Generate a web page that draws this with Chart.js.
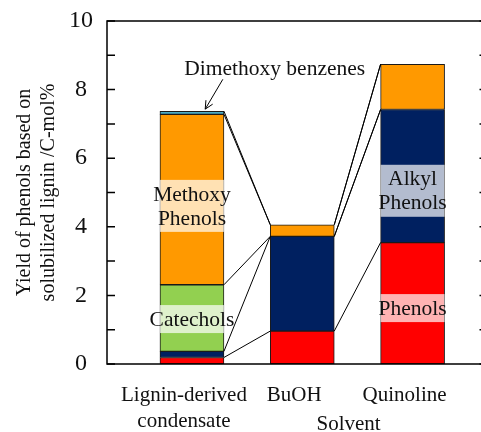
<!DOCTYPE html>
<html>
<head>
<meta charset="utf-8">
<script src="https://cdn.jsdelivr.net/npm/chart.js@4.4.1/dist/chart.umd.min.js"></script>
<style>
  html, body { margin: 0; padding: 0; background: #fff; }
  #wrap { width: 481px; height: 432px; }
</style>
</head>
<body>
<div id="wrap"><canvas id="yieldChart"></canvas></div>
<script>
// solvents (one bar each) and their tick labels
const categories = ['Lignin-derived condensate', 'BuOH', 'Quinoline'];
const categoryLabels = [['Lignin-derived', 'condensate'], ['BuOH'], ['Quinoline']];
const categoryPos = [1, 2, 3];

// yield of phenols, C-mol%, stacked bottom to top
const phenols = [0.19, 0.96, 3.54];
const alkylPhenols = [0.18, 2.76, 3.88];
const catechols = [1.94, 0, 0];
const methoxyPhenols = [4.97, 0.34, 1.32];
const dimethoxyBenzenes = [0.09, 0, 0];

const yTicks = [0, 2, 4, 6, 8, 10];

const seriesNames = ['Phenols', 'Alkyl Phenols', 'Catechols', 'Methoxy Phenols', 'Dimethoxy benzenes'];
const seriesValues = [phenols, alkylPhenols, catechols, methoxyPhenols, dimethoxyBenzenes];
const seriesColors = ['#ff0000', '#002060', '#92d050', '#ff9900', '#4bacc6'];

// names written on top of the bars (bar index + value where the box is centred)
const barLabels = [
    { lines: ['Methoxy', 'Phenols'], bar: 0, at: 4.61 },
    { lines: ['Catechols'], bar: 0, at: 1.31 },
    { lines: ['Alkyl', 'Phenols'], bar: 2, at: 5.05 },
    { lines: ['Phenols'], bar: 2, at: 1.63 }
];

const FONT = '"Liberation Serif", "Times New Roman", serif';
Chart.defaults.font.family = FONT;
Chart.defaults.color = '#000';

const overlay = {
    id: 'overlay',
    afterDatasetsDraw(chart) {
        const { ctx, chartArea: a, scales: { x, y } } = chart;
        ctx.save();

        // lines joining the segment tops of neighbouring bars
        ctx.strokeStyle = '#000';
        ctx.lineWidth = 1;
        chart.data.datasets.forEach((ds, i) => {
            const bars = chart.getDatasetMeta(i).data;
            for (let j = 0; j < bars.length - 1; j++) {
                const b0 = bars[j], b1 = bars[j + 1];
                ctx.beginPath();
                ctx.moveTo(b0.x + b0.width / 2, b0.y);
                ctx.lineTo(b1.x - b1.width / 2, b1.y);
                ctx.stroke();
            }
        });

        // labels in pale boxes over the bars
        ctx.font = '21.5px ' + FONT;
        ctx.textAlign = 'center';
        ctx.textBaseline = 'middle';
        barLabels.forEach(l => {
            const el = chart.getDatasetMeta(0).data[l.bar];
            const cy = y.getPixelForValue(l.at);
            const h = l.lines.length * 24 + 4;
            ctx.fillStyle = 'rgba(255,255,255,0.7)';
            ctx.fillRect(el.x - el.width / 2, cy - h / 2, el.width, h);
            ctx.fillStyle = '#111';
            l.lines.forEach((t, k) => {
                ctx.fillText(t, el.x, cy + (k - (l.lines.length - 1) / 2) * 24 + 1);
            });
        });

        // Dimethoxy benzenes callout with arrow
        ctx.fillStyle = '#111';
        ctx.fillText('Dimethoxy benzenes', x.getPixelForValue(1.75), y.getPixelForValue(8.6));
        const x0 = x.getPixelForValue(1.28), y0 = y.getPixelForValue(8.30);
        const x1 = x.getPixelForValue(1.12), y1 = y.getPixelForValue(7.43);
        ctx.beginPath();
        ctx.moveTo(x0, y0);
        ctx.lineTo(x1, y1);
        const ang = Math.atan2(y1 - y0, x1 - x0);
        [-0.45, 0.45].forEach(d => {
            ctx.moveTo(x1, y1);
            ctx.lineTo(x1 - 9 * Math.cos(ang + d), y1 - 9 * Math.sin(ang + d));
        });
        ctx.stroke();

        // frame and inner ticks
        ctx.lineWidth = 1.5;
        ctx.beginPath();
        ctx.moveTo(a.right, a.top);
        ctx.lineTo(a.left, a.top);
        ctx.lineTo(a.left, a.bottom);
        ctx.lineTo(a.right, a.bottom);
        ctx.stroke();
        for (let v = 0; v <= 10; v++) {
            const py = y.getPixelForValue(v);
            ctx.beginPath();
            ctx.moveTo(a.left, py);
            ctx.lineTo(a.left + 8, py);
            ctx.moveTo(a.right - 1.5, py);
            ctx.lineTo(a.right, py);
            ctx.stroke();
        }

        // axis name, set off to the right like the original
        ctx.fillStyle = '#111';
        ctx.font = '21px ' + FONT;
        ctx.fillText('Solvent', x.getPixelForValue(2.42), a.bottom + 60);
        ctx.restore();
    }
};

new Chart(document.getElementById('yieldChart').getContext('2d'), {
    type: 'bar',
    data: {
        datasets: seriesNames.map((name, i) => ({
            label: name,
            data: seriesValues[i].map((v, j) => ({ x: categoryPos[j], y: v })),
            backgroundColor: seriesColors[i],
            borderColor: '#1a1a1a',
            borderWidth: 1,
            borderSkipped: false,
            barThickness: 64
        }))
    },
    options: {
        responsive: true,
        maintainAspectRatio: false,
        animation: false,
        layout: { padding: { top: 21, right: 0, left: 0, bottom: 0 } },
        plugins: {
            legend: { display: false },
            tooltip: { enabled: false }
        },
        scales: {
            x: {
                type: 'linear',
                stacked: true,
                offset: false,
                min: 0.23,
                max: 3.62,
                grid: { display: false, drawTicks: false },
                border: { display: false },
                afterBuildTicks: s => { s.ticks = categoryPos.map(v => ({ value: v })); },
                afterFit: s => { s.height = 68; s.paddingLeft = 0; s.paddingRight = 0; },
                ticks: {
                    padding: 18,
                    labelOffset: -8,
                    maxRotation: 0,
                    autoSkip: false,
                    font: { size: 21, lineHeight: 1.24 },
                    color: '#111',
                    callback: v => categoryLabels[categoryPos.indexOf(v)] || ''
                }
            },
            y: {
                stacked: true,
                min: 0,
                max: 10,
                grid: { display: false, drawTicks: false },
                border: { display: false },
                afterBuildTicks: s => { s.ticks = yTicks.map(v => ({ value: v })); },
                afterFit: s => { s.width = 107; s.paddingTop = 0; s.paddingBottom = 0; },
                ticks: {
                    padding: 14,
                    crossAlign: 'center',
                    font: { size: 24 },
                    color: '#111'
                },
                title: {
                    display: true,
                    text: ['Yield of phenols based on', 'solubilized lignin /C-mol%'],
                    font: { size: 20, lineHeight: 1.2 },
                    color: '#111',
                    padding: { top: 13, bottom: 0 }
                }
            }
        }
    },
    plugins: [overlay]
});
</script>
</body>
</html>
